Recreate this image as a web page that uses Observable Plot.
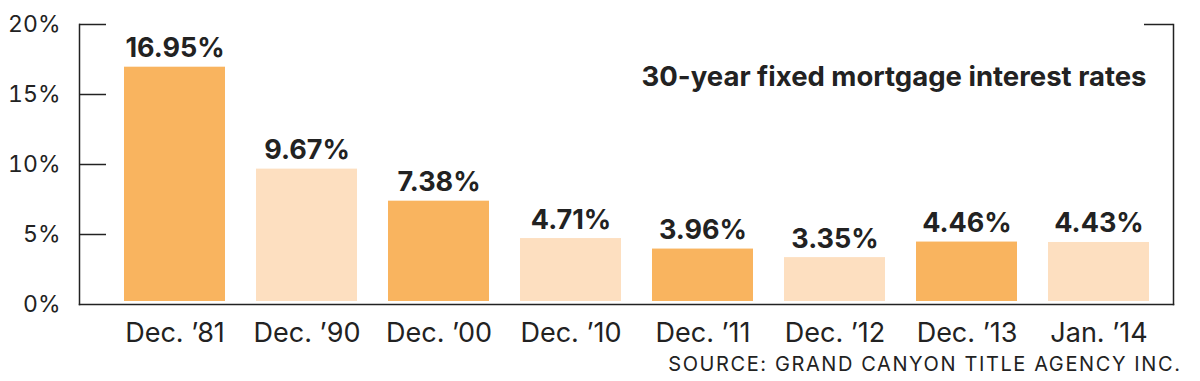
<!DOCTYPE html>
<html>
<head>
<meta charset="utf-8">
<script src="https://cdn.jsdelivr.net/npm/d3@7"></script>
<script src="https://cdn.jsdelivr.net/npm/@observablehq/plot@0.6"></script>
<style>
  html, body { margin: 0; padding: 0; background: #fff; }
  #chart svg { display: block; }
</style>
</head>
<body>
<div id="chart"></div>
<script>
const periods = ["Dec. ’81", "Dec. ’90", "Dec. ’00", "Dec. ’10", "Dec. ’11", "Dec. ’12", "Dec. ’13", "Jan. ’14"];
const rates = [16.95, 9.67, 7.38, 4.71, 3.96, 3.35, 4.46, 4.43];
const shades = ["dark", "light", "dark", "light", "dark", "light", "dark", "light"];
const yTicks = [0, 5, 10, 15, 20];
const titleText = "30-year fixed mortgage interest rates";
const sourceText = "SOURCE: GRAND CANYON TITLE AGENCY INC.";

const data = periods.map((p, i) => ({period: p, rate: rates[i], shade: shades[i]}));

const ink = "#222222";
const font = "Inter, 'Noto Sans', sans-serif";

const chart = Plot.plot({
  width: 1200,
  height: 381,
  marginLeft: 79,
  marginRight: 27,
  marginTop: 24,
  marginBottom: 77,
  style: {fontFamily: font, color: ink, background: "#fff"},
  x: {domain: periods, range: [124, 1157], paddingInner: 0.233, paddingOuter: 0, align: 0, label: null},
  y: {domain: [0, 20], label: null},
  color: {domain: ["dark", "light"], range: ["#F9B45F", "#FDDFC0"]},
  marks: [
    Plot.barY(data, {x: "period", y: "rate", fill: "shade", insetBottom: 3}),
    Plot.text(data, {x: "period", y: "rate", text: d => d.rate.toFixed(2) + "%", lineAnchor: "bottom", dy: -10, fontWeight: 700, fontSize: 27, fill: ink}),
    Plot.frame({anchor: "left", stroke: ink, strokeWidth: 1.5}),
    Plot.frame({anchor: "bottom", stroke: ink, strokeWidth: 1.5}),
    Plot.frame({anchor: "right", stroke: ink, strokeWidth: 1.5}),
    Plot.ruleY([5, 10, 15, 20], {insetRight: 1094 - 27, stroke: ink, strokeWidth: 1.5}),
    Plot.ruleY([20], {insetLeft: 1094 - 29, stroke: ink, strokeWidth: 1.5}),
    Plot.axisY(yTicks, {tickSize: 0, tickPadding: 19, tickFormat: d => d + "%", fontSize: 23, fill: ink, label: null}),
    Plot.axisX({tickSize: 0, tickPadding: 18, fontSize: 27, fill: ink, label: null}),
    Plot.text([titleText], {frameAnchor: "top-right", textAnchor: "end", dx: -27, dy: 42, fontWeight: 700, fontSize: 27.5, fill: ink}),
    Plot.text([sourceText], {frameAnchor: "bottom-right", textAnchor: "end", dx: 8, dy: 66.5, fontSize: 20, fill: ink})
  ]
});
d3.select(chart).selectAll("text")
  .filter(function() { return this.textContent === sourceText; })
  .style("letter-spacing", "0.08em");
document.getElementById("chart").appendChild(chart);
</script>
</body>
</html>
